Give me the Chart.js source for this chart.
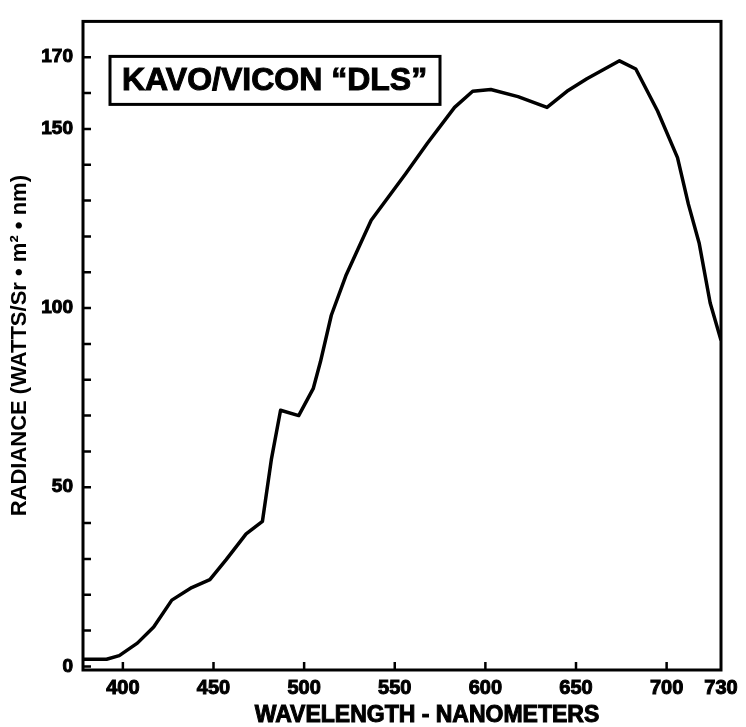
<!DOCTYPE html>
<html>
<head>
<meta charset="utf-8">
<script src="https://cdn.jsdelivr.net/npm/chart.js@4.4.0/dist/chart.umd.min.js"></script>
<style>
  html, body { margin: 0; padding: 0; background: #fff; }
  #wrap { width: 746px; height: 727px; }
</style>
</head>
<body>
<div id="wrap"><canvas id="myChart" width="746" height="727"></canvas></div>
<script>
// wavelength (nm) and radiance
const wavelengths = [378, 391, 398, 408, 417, 427, 438, 448, 457, 468, 477, 482, 487, 497, 505, 509, 515, 523, 532, 537, 556, 568, 583, 593, 603, 618, 634, 645, 656, 674, 683, 695, 706, 712, 718, 724, 730];
const radiance = [2, 2, 3, 6.5, 11, 18.5, 22, 24.2, 29.8, 37, 40.5, 58, 71.5, 70, 77.5, 85, 98, 109, 119, 124.5, 137.5, 146, 156, 160.5, 161, 159, 156, 160.5, 164, 169, 166.7, 155, 142, 129, 118, 101.5, 91];

const xTickValues = [400, 450, 500, 550, 600, 650, 700, 730];
const xInnerTicks = [400, 450, 500, 550, 600, 650, 700];
const yTickValues = [0, 10, 20, 30, 40, 50, 60, 70, 80, 90, 100, 110, 120, 130, 140, 150, 160, 170];
const yTickLabels = [0, 50, 100, 150, 170];

const chartTitle = 'KAVO/VICON \u201CDLS\u201D';
const xTitle = 'WAVELENGTH - NANOMETERS';
const yTitle = 'RADIANCE (WATTS/Sr \u2022 m\u00B2 \u2022 nm)';

const FONT = '"Liberation Sans", Arial, sans-serif';

// frame, inward ticks, label box and x title
const framePlugin = {
  id: 'frame',
  afterDraw(chart) {
    const ctx = chart.ctx;
    const a = chart.chartArea;
    const xs = chart.scales.x;
    const ys = chart.scales.y;
    ctx.save();
    ctx.strokeStyle = '#000';
    ctx.lineWidth = 3;
    ctx.strokeRect(a.left, a.top, a.right - a.left, a.bottom - a.top);

    ctx.lineWidth = 2.5;
    ctx.beginPath();
    yTickValues.forEach(v => {
      const py = ys.getPixelForValue(v);
      ctx.moveTo(a.left, py);
      ctx.lineTo(a.left + 8, py);
    });
    xInnerTicks.forEach(v => {
      const px = xs.getPixelForValue(v);
      ctx.moveTo(px, a.bottom);
      ctx.lineTo(px, a.bottom - 8);
    });
    ctx.stroke();

    // label box
    ctx.lineWidth = 3;
    ctx.strokeRect(a.left + 27, a.top + 35, 330, 48);
    ctx.fillStyle = '#000';
    ctx.lineWidth = 1;
    ctx.font = 'bold 32px ' + FONT;
    ctx.textBaseline = 'middle';
    ctx.textAlign = 'left';
    ctx.fillText(chartTitle, a.left + 39, a.top + 60);
    ctx.strokeText(chartTitle, a.left + 39, a.top + 60);

    // x axis title
    ctx.font = 'bold 23px ' + FONT;
    ctx.textAlign = 'center';
    ctx.fillText(xTitle, (a.left + a.right) / 2 + 25, 716);
    ctx.strokeText(xTitle, (a.left + a.right) / 2 + 25, 716);
    ctx.restore();
  }
};

const ctx = document.getElementById('myChart').getContext('2d');
new Chart(ctx, {
  type: 'line',
  data: {
    datasets: [{
      label: 'Radiance',
      data: wavelengths.map((w, i) => ({ x: w, y: radiance[i] })),
      borderColor: '#000',
      borderWidth: 3.5,
      borderJoinStyle: 'round',
      pointRadius: 0,
      tension: 0,
      fill: false
    }]
  },
  options: {
    responsive: false,
    animation: false,
    layout: { padding: { top: 16, right: 25, left: 0, bottom: 0 } },
    plugins: {
      legend: { display: false },
      tooltip: { enabled: false }
    },
    scales: {
      x: {
        type: 'linear',
        min: 378,
        max: 730,
        afterBuildTicks: scale => { scale.ticks = xTickValues.map(v => ({ value: v })); },
        afterFit: scale => { scale.height = 57; },
        grid: { display: false, drawTicks: false },
        border: { display: false },
        ticks: {
          color: '#000',
          textStrokeColor: '#000',
          textStrokeWidth: 1,
          padding: 6,
          maxRotation: 0,
          autoSkip: false,
          font: { family: FONT, size: 20, weight: 'bold' },
          callback: v => String(v)
        }
      },
      y: {
        min: -1,
        max: 180,
        afterBuildTicks: scale => { scale.ticks = yTickValues.map(v => ({ value: v })); },
        afterFit: scale => { scale.width = 83; },
        grid: { display: false, drawTicks: false },
        border: { display: false },
        ticks: {
          color: '#000',
          textStrokeColor: '#000',
          textStrokeWidth: 1,
          padding: 10,
          autoSkip: false,
          font: { family: FONT, size: 19, weight: 'bold' },
          callback: v => (yTickLabels.includes(v) ? String(v) : '')
        },
        title: {
          display: true,
          text: yTitle,
          color: '#000',
          padding: { top: 7, bottom: 0 },
          font: { family: FONT, size: 22, weight: 'bold' }
        }
      }
    }
  },
  plugins: [framePlugin]
});
</script>
</body>
</html>
